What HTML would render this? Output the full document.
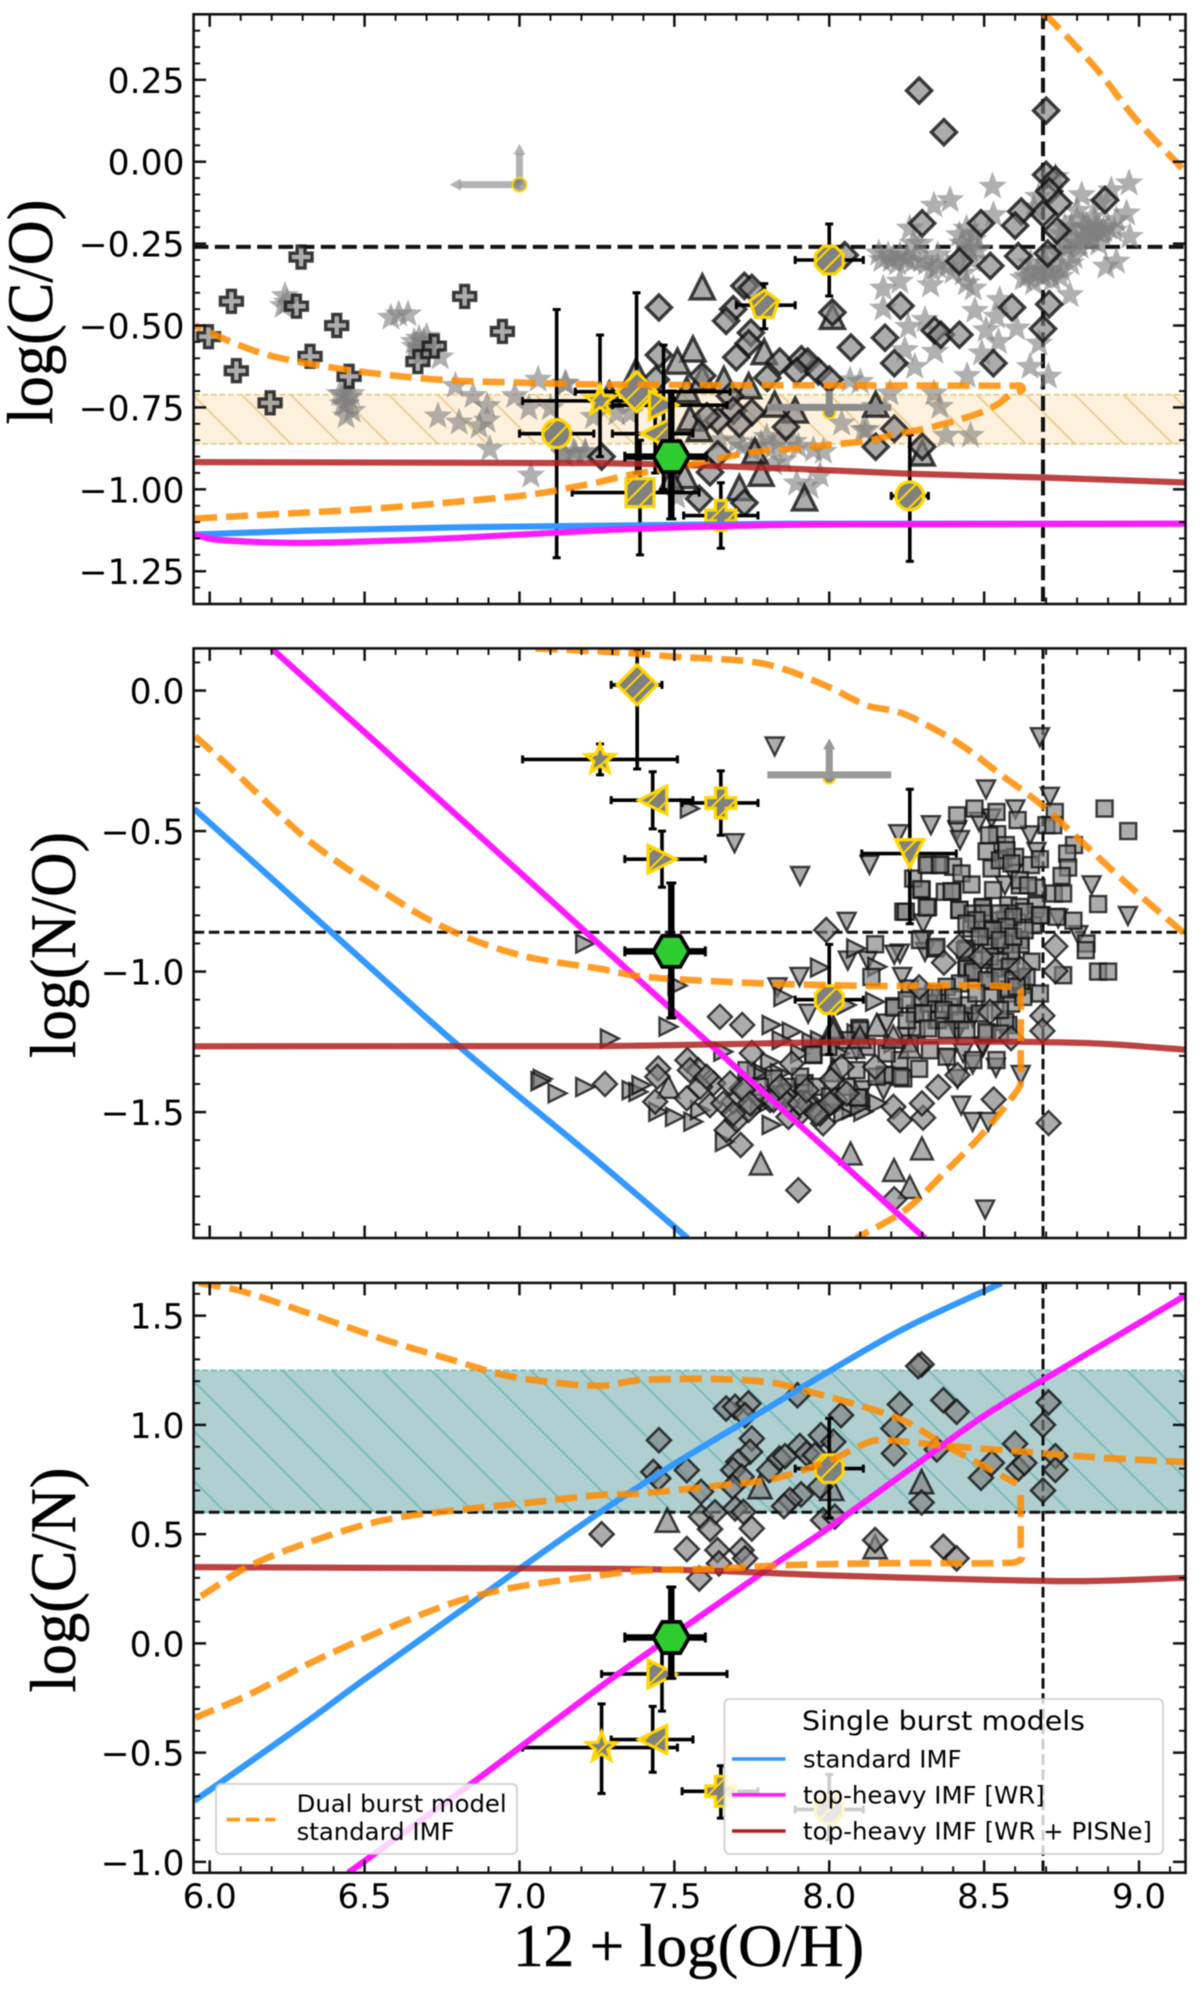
<!DOCTYPE html>
<html lang="en">
<head>
<meta charset="utf-8">
<title>Abundance ratios vs metallicity</title>
<style>
html,body{margin:0;padding:0;background:#fff;width:1200px;height:1990px;overflow:hidden}
svg{display:block;filter:blur(0.5px)}
text{font-family:"DejaVu Sans","Liberation Sans",sans-serif;fill:#000}
.serif{font-family:"Liberation Serif","DejaVu Serif",serif;stroke:#000;stroke-width:0.5}
</style>
</head>
<body>
<svg id="chart" xmlns="http://www.w3.org/2000/svg" width="1200" height="1990" viewBox="0 0 1200 1990">
<defs>
<pattern id="hatch-band-co" patternUnits="userSpaceOnUse" width="34.65" height="34.65" patternTransform="rotate(-45)">
<rect width="34.65" height="34.65" fill="#fef1dd"/><line x1="30.4" y1="0" x2="30.4" y2="34.65" stroke="#ebca86" stroke-width="1.7"/>
</pattern>
<pattern id="hatch-band-cn" patternUnits="userSpaceOnUse" width="35.14" height="35.14" patternTransform="rotate(-45)">
<rect width="35.14" height="35.14" fill="#afcfd0"/><line x1="3.7" y1="0" x2="3.7" y2="35.14" stroke="#74baba" stroke-width="1.7"/>
</pattern>
<pattern id="hatch-special" patternUnits="userSpaceOnUse" width="12" height="12" patternTransform="rotate(45)">
<rect width="12" height="12" fill="#808080"/><line x1="6" y1="0" x2="6" y2="12" stroke="#ffd700" stroke-width="2"/>
</pattern>
<clipPath id="clip-co"><rect x="193.6" y="14.3" width="991.9" height="589.7"/></clipPath>
<clipPath id="clip-no"><rect x="193.6" y="648.4" width="991.9" height="589.6"/></clipPath>
<clipPath id="clip-cn"><rect x="193.6" y="1282.9" width="991.9" height="589.9"/></clipPath>
</defs>
<g id="panel-co"></g>
<g id="panel-no"></g>
<g id="panel-cn"></g>

<text class="serif" transform="translate(52,312) rotate(-90)" text-anchor="middle" font-size="65" textLength="225" lengthAdjust="spacingAndGlyphs">log(C/O)</text>
<text class="serif" transform="translate(75,945) rotate(-90)" text-anchor="middle" font-size="65" textLength="226" lengthAdjust="spacingAndGlyphs">log(N/O)</text>
<text class="serif" transform="translate(75,1580) rotate(-90)" text-anchor="middle" font-size="65" textLength="225" lengthAdjust="spacingAndGlyphs">log(C/N)</text>
<text class="serif" x="513" y="1966" font-size="60" textLength="351" lengthAdjust="spacingAndGlyphs">12 + log(O/H)</text>

<g id="legends">
<g>
<rect x="216" y="1784" width="301" height="70" rx="5" fill="#fff" fill-opacity="0.8" stroke="#cccccc" stroke-width="1.6"/>
<line x1="226.6" y1="1819.6" x2="275.5" y2="1819.6" stroke="#ff8c00" stroke-opacity="0.9" stroke-width="3.6" stroke-dasharray="13.5,5.8"/>
<text x="296.6" y="1812" font-size="24" textLength="210" lengthAdjust="spacingAndGlyphs">Dual burst model</text>
<text x="296.6" y="1840" font-size="24" textLength="158" lengthAdjust="spacingAndGlyphs">standard IMF</text>
</g>
<g>
<rect x="724.4" y="1699" width="438.6" height="155" rx="5" fill="#fff" fill-opacity="0.8" stroke="#cccccc" stroke-width="1.6"/>
<text x="802" y="1730" font-size="27" textLength="283" lengthAdjust="spacingAndGlyphs">Single burst models</text>
<line x1="732" y1="1759" x2="785.6" y2="1759" stroke="#3399ff" stroke-width="3.6"/>
<text x="803" y="1767.5" font-size="24" textLength="158.6" lengthAdjust="spacingAndGlyphs">standard IMF</text>
<line x1="732" y1="1794.8" x2="785.6" y2="1794.8" stroke="#ff1aff" stroke-width="3.6"/>
<text x="803" y="1803.5" font-size="24" textLength="241.7" lengthAdjust="spacingAndGlyphs">top-heavy IMF [WR]</text>
<line x1="732" y1="1831" x2="785.6" y2="1831" stroke="#b22222" stroke-width="3.6"/>
<text x="803" y="1839.5" font-size="24" textLength="349" lengthAdjust="spacingAndGlyphs">top-heavy IMF [WR + PISNe]</text>
</g>
</g>
</svg>

<script>
// ---- shared axis data ----
const xTickValues = [6.0, 6.5, 7.0, 7.5, 8.0, 8.5, 9.0];
const xTickLabels = ["6.0", "6.5", "7.0", "7.5", "8.0", "8.5", "9.0"];
const coYTickValues = [0.25, 0, -0.25, -0.5, -0.75, -1.0, -1.25];
const coYTickLabels = ["0.25", "0.00", "\u22120.25", "\u22120.50", "\u22120.75", "\u22121.00", "\u22121.25"];
const noYTickValues = [0, -0.5, -1.0, -1.5];
const noYTickLabels = ["0.0", "\u22120.5", "\u22121.0", "\u22121.5"];
const cnYTickValues = [1.5, 1.0, 0.5, 0, -0.5, -1.0];
const cnYTickLabels = ["1.5", "1.0", "0.5", "0.0", "\u22120.5", "\u22121.0"];
const solarOH = 8.69;
const solarCO = -0.26;
const solarNO = -0.86;
const solarCNLine = 0.6;
const coBand = [-0.861, -0.711];
const cnBand = [0.6, 1.25];

// ---- C/O panel data: [12+log(O/H), log(C/O)] ----
const coStars = [[8.527,-.076],[8.39,-.117],[8.338,-.134],[8.73,-.046],[8.968,-.066],[8.91,-.087],[8.815,-.102],[8.874,-.127],[8.96,-.158],[8.97,-.229],[8.927,-.178],[8.85,-.168],[8.80,-.178],[8.83,-.198],[8.885,-.209],[8.79,-.229],[8.85,-.239],[8.766,-.26],[8.79,-.29],[8.927,-.305],[8.893,-.32],[8.53,-.163],[8.443,-.204],[8.42,-.224],[8.465,-.239],[8.454,-.27],[8.26,-.204],[8.293,-.25],[8.19,-.285],[8.228,-.285],[8.207,-.295],[8.27,-.305],[8.314,-.31],[8.35,-.32],[8.35,-.285],[8.40,-.336],[8.433,-.341],[8.67,-.341],[8.712,-.341],[8.745,-.351],[8.648,-.336],[8.69,-.351],[8.734,-.32],[8.626,-.356],[8.777,-.407],[8.675,-.107],[8.66,-.14],[8.76,-.2],[8.82,-.23],[8.86,-.21],[8.9,-.2],[8.76,-.25],[8.81,-.26],[8.87,-.25],[8.7,-.31],[8.65,-.31],[8.228,-.366],[8.174,-.387],[8.327,-.377],[8.443,-.371],[8.465,-.387],[8.55,-.422],[8.174,-.448],[8.47,-.455],[8.309,-.483],[8.255,-.504],[8.54,-.473],[8.506,-.514],[8.605,-.509],[8.546,-.55],[8.341,-.58],[8.244,-.575],[8.276,-.626],[8.492,-.585],[8.677,-.555],[8.648,-.626],[8.707,-.656],[8.445,-.654],[8.338,-.707],[8.357,-.748],[8.196,-.707],[8.377,-.836],[8.456,-.836],[8.12,-.819],[8.147,-.748],[6.243,-.41],[6.237,-.44],[6.25,-.43],[6.61,-.466],[6.585,-.476],[6.64,-.466],[6.676,-.54],[6.70,-.534],[6.663,-.565],[6.68,-.59],[6.744,-.597],[6.42,-.709],[6.457,-.709],[6.43,-.74],[6.44,-.777],[6.45,-.72],[6.793,-.684],[6.85,-.715],[6.895,-.746],[6.895,-.79],[6.87,-.808],[6.737,-.777],[6.805,-.796],[6.985,-.715],[7.06,-.665],[7.03,-.752],[6.904,-.877],[7.037,-.958],[7.10,-.752],[7.15,-.678],[7.145,-.895],[7.213,-.889],[7.18,-.89],[7.147,-.677],[7.239,-.779],[7.314,-.768],[7.357,-.768],[7.174,-.885],[7.212,-.885],[7.142,-.89],[7.798,-.84],[7.647,-.85],[7.70,-.855],[7.884,-.855],[7.949,-.88],[7.981,-.885],[7.97,-.957],[7.895,-.982],[7.938,-.992],[7.852,-.911],[7.82,-.921],[8.04,-.799],[8.11,-.819],[7.508,-1.023],[8.067,-.667],[8.10,-.672],[8.8,-.15],[8.82,-.2],[8.84,-.21],[8.87,-.2],[8.78,-.2],[8.75,-.22],[8.83,-.24],[8.88,-.22],[8.92,-.21],[8.86,-.19],[8.8,-.25],[8.74,-.28],[8.68,-.33],[8.64,-.35],[8.72,-.36],[8.7,-.33],[8.66,-.37],[8.75,-.33],[8.78,-.31],[8.2,-.3],[8.22,-.31],[8.25,-.3],[8.3,-.3],[8.33,-.33],[8.38,-.32],[8.42,-.3],[8.46,-.3],[8.45,-.26],[8.47,-.22],[8.48,-.27],[8.43,-.25],[8.27,-.25],[8.25,-.29],[8.17,-.3],[8.16,-.28],[7.75,-.88],[7.78,-.86],[7.82,-.87],[7.84,-.85],[7.9,-.87],[7.72,-.87],[6.69,-.55],[6.71,-.56],[6.66,-.55],[6.68,-.57],[6.44,-.74],[6.43,-.71],[6.46,-.76]];
const coDiamonds = [[8.29,.217],[8.37,.09],[8.70,.156],[8.70,-.04],[8.73,-.055],[8.71,-.09],[8.74,-.127],[8.69,-.158],[8.735,-.21],[8.705,-.28],[8.62,-.152],[8.60,-.195],[8.49,-.188],[8.30,-.188],[8.89,-.117],[8.42,-.304],[8.52,-.318],[8.61,-.288],[8.23,-.44],[8.59,-.445],[8.71,-.435],[8.69,-.51],[8.18,-.537],[8.34,-.515],[8.36,-.528],[8.42,-.528],[8.21,-.615],[8.53,-.615],[8.07,-.567],[8.05,-.285],[8.01,-.46],[7.45,-.445],[7.726,-.379],[7.75,-.385],[7.69,-.45],[7.667,-.486],[7.747,-.522],[7.74,-.555],[7.70,-.597],[7.45,-.59],[7.84,-.61],[7.91,-.603],[7.93,-.61],[7.895,-.64],[7.965,-.64],[8.0,-.665],[7.80,-.66],[7.59,-.653],[7.68,-.715],[7.69,-.76],[7.75,-.765],[7.71,-.80],[7.64,-.79],[7.605,-.777],[7.86,-.81],[8.21,-.815],[8.15,-.87],[8.30,-.87],[7.64,-.893],[7.615,-.948],[7.58,-1.029],[7.726,-1.041],[7.265,-.90],[7.44,-.665]];
const coTriangles = [[7.59,-.382],[8.01,-.472],[7.56,-.572],[7.51,-.609],[7.79,-.58],[7.376,-.64],[7.66,-.665],[7.74,-.684],[7.54,-.696],[7.59,-.66],[7.824,-.74],[7.89,-.758],[8.15,-.74],[7.55,-.783],[7.58,-.815],[7.76,-.883],[7.78,-.951],[7.71,-.995],[7.92,-1.026],[8.30,-.889],[7.533,-.958],[7.29,-.71],[7.49,-.97]];
const coCrosses = [[6.295,-.291],[6.07,-.426],[6.28,-.441],[5.996,-.534],[6.41,-.50],[6.324,-.594],[6.086,-.638],[6.45,-.655],[6.195,-.736],[6.823,-.411],[6.945,-.518],[6.725,-.563],[6.672,-.61]];
const coSpecial = [
 ["circle",7.12,-.83,7.0,7.24,-1.209,-.451],
 ["star",7.26,-.73,7.01,7.5,-.90,-.529],
 ["diamond",7.378,-.702,7.18,7.68,-.95,-.40],
 ["square",7.389,-1.01,7.17,7.58,-1.20,-.85],
 ["right",7.465,-.743,7.3,7.67,-1.0,-.56],
 ["left",7.438,-.83,7.30,7.56,-.95,-.72],
 ["pentagon",7.79,-.438,7.70,7.89,-.51,-.372],
 ["cross",7.65,-1.08,7.53,7.77,-1.18,-.98],
 ["octagon",8.0,-.30,7.89,8.11,-.41,-.19],
 ["circle",8.26,-1.02,8.2,8.32,-1.22,-.833]
];
const coUpperLimit = [7.0,-.07,6.775,.055];
const coGreyBar = [8.0,-.75,7.8,8.2,-.70];
const coGreen = [7.49,-.90,7.34,7.604,-1.09,-.70];
const coDualUpper = [[5.953,-1.089],[6.25,-1.074],[6.558,-1.057],[6.867,-1.032],[7.052,-1.014],[7.26,-.977],[7.29,-.97],[7.383,-.951],[7.506,-.933],[7.63,-.908],[7.753,-.887],[7.877,-.877],[8,-.864],[8.124,-.852],[8.223,-.83],[8.309,-.815],[8.42,-.787],[8.482,-.768],[8.544,-.74],[8.587,-.709],[8.624,-.696],[8.618,-.684],[8.6,-.684],[7.26,-.68],[6.99,-.674],[6.805,-.669],[6.682,-.661],[6.558,-.649],[6.435,-.634],[6.311,-.615],[6.188,-.59],[6.077,-.553],[5.953,-.50]];
const coDualTail = [[8.69,.45],[8.717,.431],[8.865,.281],[8.988,.132],[9.149,-.03]];
const coRed = [[5.95,-.917],[7.26,-.92],[7.877,-.937],[8.247,-.952],[8.69,-.964],[9.149,-.979]];
const coBlue = [[5.95,-1.138],[6.311,-1.126],[6.805,-1.116],[7.26,-1.111],[7.877,-1.105],[9.149,-1.105]];
const coMagenta = [[5.95,-1.138],[6.015,-1.153],[6.237,-1.163],[6.435,-1.161],[6.805,-1.148],[7.26,-1.125],[7.63,-1.113],[8,-1.107],[9.149,-1.105]];

// ---- N/O panel data: [12+log(O/H), log(N/O)] ----
const noSquares = [[8.413,-.444],[8.469,-.42],[8.54,-.432],[8.608,-.461],[8.728,-.432],[8.701,-.479],[8.723,-.479],[8.889,-.42],[8.965,-.50],[8.79,-.55],[8.768,-.58],[8.771,-.63],[8.75,-.66],[8.542,-.511],[8.516,-.515],[8.57,-.55],[8.508,-.572],[8.562,-.598],[8.6,-.592],[8.651,-.621],[8.68,-.6],[8.524,-.633],[8.319,-.621],[8.357,-.621],[8.4,-.627],[8.427,-.651],[8.459,-.69],[8.529,-.71],[8.615,-.693],[8.669,-.701],[8.725,-.722],[8.755,-.722],[8.868,-.76],[8.298,-.71],[8.271,-.669],[8.373,-.716],[8.398,-.716],[8.319,-.77],[8.239,-.787],[8.42,-.781],[8.497,-.77],[8.578,-.764],[8.615,-.77],[8.669,-.764],[8.685,-.799],[8.551,-.819],[8.497,-.829],[8.583,-.793],[8.788,-.819],[8.734,-.805],[8.658,-.835],[8.459,-.847],[8.519,-.876],[8.567,-.9],[8.615,-.888],[8.293,-.888],[8.341,-.918],[8.83,-.9],[8.828,-.924],[8.868,-1.0],[8.9,-1.0],[8.755,-1.013],[8.653,-.965],[8.588,-.942],[8.443,-.989],[8.535,-.989],[8.68,-1.078],[8.357,-1.09],[8.26,-1.06],[8.449,-1.12],[8.578,-1.078],[8.325,-1.114],[8.39,-1.125],[8.276,-1.149],[8.519,-1.09],[8.621,-1.03],[8.282,-1.208],[8.51,-1.22],[8.578,-1.19],[8.346,-1.173],[8.422,-1.173],[8.209,-1.123],[7.949,-1.297],[7.919,-1.4],[8.097,-1.2],[8.099,-1.448],[7.997,-1.268],[8.185,-1.368],[8.228,-1.315],[8.239,-1.38],[7.948,-1.295],[8.1,-1.208],[8.21,-1.128],[8.278,-1.15],[8.358,-1.092],[8.321,-1.114],[8.352,-1.172],[8.445,-.99],[8.507,-1.215],[8.568,-1.179],[8.587,-1.114],[8.29,-1.346],[8.229,-1.375],[8.179,-1.368],[8.093,-1.448],[7.92,-1.397],[8.148,-.903],[8.136,-1.019],[8.247,-.787],[8.315,-.772],[8.315,-.62],[8.358,-.62],[8.297,-.707],[8.395,-.714],[8.463,-1.005],[8.519,-1.034],[8.58,-1.063],[8.618,-1.048],[8.445,-.918],[8.507,-.903],[8.568,-.903],[8.618,-.903],[8.587,-.932],[8.507,-.845],[8.568,-.816],[8.63,-.787],[8.68,-.80],[8.494,-.772],[8.42,-.78],[8.463,-.794],[8.551,-.604],[8.572,-.568],[8.588,-.615],[8.615,-.675],[8.642,-.693],[8.497,-.793],[8.475,-.817],[8.443,-.829],[8.551,-.793],[8.594,-.805],[8.572,-.841],[8.529,-.853],[8.486,-.876],[8.551,-.888],[8.594,-.876],[8.631,-.853],[8.346,-.912],[8.438,-.924],[8.492,-.959],[8.519,-.947],[8.551,-.965],[8.583,-.983],[8.465,-1.0],[8.508,-1.03],[8.551,-1.019],[8.594,-1.03],[8.637,-1.019],[8.422,-1.042],[8.379,-1.054],[8.336,-1.078],[8.293,-1.09],[8.25,-1.102],[8.4,-1.09],[8.475,-1.078],[8.626,-1.09],[8.605,-1.054],[8.303,-1.149],[8.368,-1.137],[8.411,-1.149],[8.486,-1.149],[8.551,-1.137],[8.25,-1.173],[8.319,-1.202],[8.379,-1.208],[8.443,-1.208],[8.551,-1.22],[8.26,-1.256],[8.325,-1.28],[8.379,-1.303],[8.465,-1.315],[8.54,-1.315],[8.057,-1.244],[8.121,-1.268],[8.185,-1.291],[8.153,-1.374],[8.088,-1.351],[8.056,-1.41],[7.959,-1.41],[8.002,-1.445],[7.906,-1.374],[7.863,-1.41],[7.82,-1.38],[7.776,-1.41],[7.733,-1.351]];
const noDownTriangles = [[8.506,-.352],[8.712,-.378],[8.328,-.479],[8.413,-.497],[8.422,-.532],[8.483,-.467],[8.524,-.455],[8.601,-.423],[8.648,-.515],[8.847,-.693],[8.964,-.802],[8.567,-.693],[8.592,-.651],[8.669,-.574],[8.303,-.829],[8.303,-.888],[8.309,-.93],[8.739,-.811],[8.804,-.87],[8.228,-.936],[8.465,-1.16],[8.411,-1.214],[8.497,-1.268],[8.432,-1.29],[7.824,-.199],[8.68,-.166],[7.694,-.543],[7.906,-.66],[8.13,-.62],[8.223,-.511],[8.056,-.823],[8.21,-.94],[8.06,-.961],[8.124,-.961],[7.904,-1.019],[7.833,-1.056],[7.932,-1.15],[8.235,-1.019],[8.426,-1.477],[8.463,-1.535],[8.513,-1.535],[8.538,-1.342],[8.618,-1.368],[8.503,-1.847],[8.414,-1.382],[8.383,-1.31],[8.463,-1.33],[8.494,-1.266],[8.414,-1.215],[8.463,-1.165],[8.185,-1.185],[8.25,-1.232],[8.088,-1.28],[8.11,-1.422],[8.175,-1.422]];
const noRightTriangles = [[7.55,-.42],[7.292,-1.238],[7.481,-1.196],[7.814,-1.19],[7.879,-1.214],[7.846,-1.244],[7.658,-1.285],[7.943,-1.25],[7.809,-1.321],[7.787,-1.362],[7.362,-1.422],[7.384,-1.428],[7.394,-1.404],[7.502,-1.517],[7.448,-1.499],[7.561,-1.534],[7.583,-1.493],[7.663,-1.606],[7.814,-1.546],[7.852,-1.09],[8.148,-1.107],[8.056,-1.119],[8.158,-1.469],[8.11,-1.499],[8.072,-1.493],[7.51,-1.05],[7.97,-.986],[8.087,-.918],[8.155,-.983],[7.212,-.90],[7.123,-1.433],[7.075,-1.382],[7.068,-1.39],[7.212,-1.411],[7.766,-1.362],[7.841,-1.362],[7.776,-1.481],[8.002,-1.493],[8.045,-1.505],[8.099,-1.481],[7.906,-1.291],[7.97,-1.244],[8.035,-1.291],[8.088,-1.22],[8.207,-1.256]];
const noDiamonds = [[7.99,-.852],[7.647,-1.161],[7.719,-1.19],[7.75,-1.29],[7.276,-1.4],[7.448,-1.345],[7.445,-1.374],[7.438,-1.463],[7.542,-1.315],[7.577,-1.351],[7.626,-1.398],[7.54,-1.451],[7.615,-1.475],[7.669,-1.564],[7.714,-1.617],[7.701,-1.528],[7.717,-1.416],[7.739,-1.493],[7.69,-1.463],[7.879,-1.327],[7.809,-1.457],[7.857,-1.44],[7.911,-1.499],[7.868,-1.517],[7.98,-1.54],[7.97,-1.505],[8.008,-1.384],[8.04,-1.339],[8.019,-1.457],[8.148,-1.339],[8.207,-1.481],[8.228,-1.528],[7.9,-1.778],[7.949,-1.481],[7.927,-1.469],[7.841,-1.445],[8.303,-1.52],[8.299,-1.469],[8.352,-1.411],[8.414,-1.368],[8.21,-1.81],[8.531,-1.455],[8.708,-1.539],[8.688,-1.157],[8.688,-1.211],[8.73,-.91],[8.73,-.998],[8.42,-.91],[8.49,-.947],[8.617,-.99],[8.37,-.968],[8.29,-1.056],[8.519,-1.143],[8.587,-1.237],[7.68,-1.398],[7.723,-1.422],[7.776,-1.445],[7.82,-1.457],[7.863,-1.469],[7.906,-1.469],[7.959,-1.505],[8.002,-1.469],[8.056,-1.434],[7.927,-1.422],[7.841,-1.41],[7.658,-1.469],[7.69,-1.505],[7.744,-1.469],[7.583,-1.41],[7.55,-1.351],[7.604,-1.374]];
const noUpTriangles = [[7.481,-1.41],[7.779,-1.683],[8.069,-1.647],[8.209,-1.706],[8.26,-1.766],[8.299,-1.629],[8.013,-1.196],[8.153,-1.19],[8.26,-1.268],[8.078,-1.268],[8.013,-1.351],[8.013,-1.214],[8.099,-1.232],[8.207,-1.232]];
const noSpecial = [
 ["diamond",7.38,.02,7.296,7.46,-.279,.142],
 ["star",7.26,-.245,7.01,7.51,-.30,-.19],
 ["left",7.43,-.39,7.296,7.56,-.492,-.289],
 ["cross",7.65,-.40,7.525,7.77,-.515,-.286],
 ["right",7.46,-.60,7.34,7.60,-.70,-.50],
 ["down",8.26,-.58,8.105,8.41,-.83,-.351],
 ["octagon",8.0,-1.10,7.89,8.11,-1.295,-.903]
];
const noGreyBar = [8.0,-.30,7.80,8.2,-.17];
const noGreen = [7.49,-.928,7.34,7.60,-1.165,-.685];
const noDualTop = [[7.052,.15],[7.259,.139],[7.383,.131],[7.506,.12],[7.63,.113],[7.753,.102],[7.852,.077],[8.0,.012],[8.124,-.054],[8.223,-.076],[8.309,-.119],[8.433,-.199],[8.556,-.301],[8.68,-.402],[8.803,-.526],[8.988,-.714],[9.149,-.867]];
const noDualLow = [[5.953,-.163],[6.064,-.272],[6.188,-.402],[6.311,-.526],[6.435,-.627],[6.558,-.714],[6.682,-.80],[6.805,-.867],[6.929,-.918],[7.052,-.954],[7.26,-.99],[7.383,-1.016],[7.568,-1.031],[7.815,-1.043],[8.124,-1.051],[8.612,-1.056],[8.618,-1.092],[8.618,-1.31],[8.618,-1.397],[8.605,-1.426],[8.494,-1.578],[8.371,-1.716],[8.247,-1.847],[8.087,-1.949]];
const noRed = [[5.95,-1.266],[7.26,-1.265],[8,-1.252],[8.494,-1.249],[8.865,-1.256],[9.149,-1.278]];
const noBlue = [[5.95,-.421],[6.4,-.867],[6.805,-1.266],[7.26,-1.682],[7.543,-1.949]];
const noMagenta = [[6.2,.15],[6.558,-.206],[6.929,-.575],[7.26,-.905],[7.63,-1.273],[7.877,-1.519],[8.309,-1.949]];

// ---- C/N panel data: [12+log(O/H), log(C/N)] ----
const cnDiamonds = [[8.298,1.277],[8.287,1.269],[7.897,1.136],[8.038,1.045],[8.228,1.094],[8.368,1.113],[8.411,1.06],[8.207,.984],[8.209,.869],[8.347,.888],[7.667,1.075],[7.696,1.083],[7.739,1.098],[7.728,1.045],[7.45,.93],[7.75,.938],[7.744,.877],[7.706,.831],[7.69,.793],[7.717,.763],[7.432,.785],[7.448,.755],[7.54,.793],[7.586,.694],[7.688,.717],[7.806,.793],[7.839,.846],[7.857,.857],[7.905,.903],[7.927,.869],[7.954,.862],[7.973,.953],[8.013,.923],[7.97,.717],[7.909,.682],[7.873,.656],[7.854,.628],[7.586,.58],[7.631,.6],[7.696,.618],[7.723,.602],[7.75,.526],[7.615,.523],[7.54,.432],[7.639,.427],[7.717,.427],[7.728,.389],[7.644,.366],[7.58,.297],[7.98,.564],[8.018,.58],[8.148,.473],[8.298,.645],[8.368,.442],[8.411,.389],[8.708,1.103],[8.69,1.0],[8.69,.70],[8.73,.857],[8.73,.794],[8.60,.914],[8.525,.826],[8.61,.80],[8.49,.758],[8.63,.826],[7.265,.50]];
const cnTriangles = [[7.477,.564],[7.776,.717],[8.008,.709],[8.298,.74],[8.148,.442]];
const cnSpecial = [
 ["right",7.46,-.14,7.265,7.67,-.31,.03],
 ["left",7.43,-.44,7.296,7.56,-.59,-.288],
 ["star",7.265,-.477,7.01,7.51,-.687,-.277],
 ["cross",7.65,-.677,7.525,7.77,-.80,-.56],
 ["octagon",8.0,.80,7.89,8.11,.574,1.03],
 ["octagon",8.0,-.76,7.89,8.11,-.9,-.60]
];
const cnGreen = [7.49,.027,7.34,7.60,-.16,.258];
const cnDualOuter = [[5.965,1.65],[6.101,1.613],[6.311,1.515],[6.558,1.393],[6.805,1.288],[6.929,1.235],[7.052,1.204],[7.26,1.179],[7.383,1.204],[7.63,1.21],[7.815,1.193],[7.938,1.151],[8.124,1.078],[8.247,1.015],[8.371,.91],[8.494,.815],[8.605,.731]];
const cnDualReturn = [[8.618,.679],[8.618,.447],[8.618,.384],[8.556,.368],[8.247,.368],[7.877,.359],[7.63,.342],[7.383,.332],[7.26,.311],[6.99,.258],[6.805,.195],[6.558,.059],[6.311,-.099],[6.126,-.235],[5.953,-.34]];
const cnDualInner = [[5.972,.216],[6.126,.353],[6.311,.458],[6.558,.563],[6.805,.611],[7.052,.647],[7.26,.679],[7.383,.685],[7.63,.721],[7.815,.752],[8,.836],[8.124,.92],[8.173,.931],[8.371,.905],[8.618,.878],[8.865,.851],[9.149,.83]];
const cnRed = [[5.95,.349],[7.26,.342],[7.63,.332],[8,.311],[8.371,.296],[8.69,.286],[8.865,.286],[9.149,.30]];
const cnBlue = [[5.95,-.721],[6.311,-.361],[6.497,-.167],[6.886,.226],[7.26,.6],[7.506,.826],[7.753,1.036],[8.0,1.246],[8.247,1.445],[8.556,1.649]];
const cnMagenta = [[6.447,-1.05],[6.842,-.645],[7.26,-.2],[7.506,.048],[7.803,.342],[8,.531],[8.247,.784],[8.494,1.036],[8.688,1.204],[9.149,1.592]];

// ---- drawing ----
const NS = 'http://www.w3.org/2000/svg';
const YELLOW = '#ffd700';

function make(tag, name, attrs, parent) {
  const el = document.createElementNS(NS, tag);
  
  
  for (const k in attrs) el.setAttribute(k, attrs[k]);
  parent.appendChild(el);
  return el;
}

function makeAxes(top, bottom, yHigh, yLow) {
  const left = 193.6, right = 1185.5, xLow = 5.948, xHigh = 9.15;
  return {
    left, right, top, bottom, yHigh, yLow, xLow, xHigh,
    x: v => left + (v - xLow) * (right - left) / (xHigh - xLow),
    y: v => top + (yHigh - v) * (bottom - top) / (yHigh - yLow)
  };
}

function ringPoints(n, r, rot) {
  const out = [];
  for (let i = 0; i < n; i++) {
    const a = rot + i * 2 * Math.PI / n;
    out.push([r * Math.cos(a), r * Math.sin(a)]);
  }
  return out;
}

function shapePoints(kind, s) {
  switch (kind) {
    case 'diamond': return [[0,-s],[s,0],[0,s],[-s,0]];
    case 'square': return [[-s,-s],[s,-s],[s,s],[-s,s]];
    case 'up': return [[0,-s],[s,s],[-s,s]];
    case 'down': return [[0,s],[s,-s],[-s,-s]];
    case 'left': return [[-s,0],[s,-s],[s,s]];
    case 'right': return [[s,0],[-s,-s],[-s,s]];
    case 'star': {
      const pts = [];
      for (let i = 0; i < 10; i++) {
        const r = i % 2 ? s * 0.42 : s;
        const a = -Math.PI / 2 + i * Math.PI / 5;
        pts.push([r * Math.cos(a), r * Math.sin(a)]);
      }
      return pts;
    }
    case 'cross': {
      const a = s * 0.36;
      return [[-a,-s],[a,-s],[a,-a],[s,-a],[s,a],[a,a],[a,s],[-a,s],[-a,a],[-s,a],[-s,-a],[-a,-a]];
    }
    case 'pentagon': return ringPoints(5, s, -Math.PI / 2);
    case 'hexagon': return ringPoints(6, s, 0);
    case 'octagon': return ringPoints(8, s, Math.PI / 8);
    default: return ringPoints(28, s, 0);
  }
}

function drawMarker(parent, name, kind, px, py, s, style) {
  const pts = shapePoints(kind, s).map(p => (px + p[0]).toFixed(1) + ',' + (py + p[1]).toFixed(1)).join(' ');
  const attrs = Object.assign({ points: pts, 'stroke-linejoin': 'miter' }, style);
  return make('polygon', name, attrs, parent);
}

function drawScatter(ax, parent, name, kind, values, size, style) {
  const group = make('g', name + '-series', {}, parent);
  values.forEach(v => {
    drawMarker(group, name, kind, ax.x(v[0]), ax.y(v[1]), size, style);
  });
}

function unit(a, b) {
  const dx = b[0] - a[0], dy = b[1] - a[1];
  const n = Math.hypot(dx, dy) || 1;
  return [dx / n, dy / n];
}

function drawLine(ax, parent, name, values, style) {
  const p = values.map(v => [ax.x(v[0]), ax.y(v[1])]);
  const tangents = p.map((pt, i) => unit(p[Math.max(i - 1, 0)], p[Math.min(i + 1, p.length - 1)]));
  let d = 'M' + p[0][0].toFixed(1) + ' ' + p[0][1].toFixed(1);
  for (let i = 0; i < p.length - 1; i++) {
    const len = Math.hypot(p[i + 1][0] - p[i][0], p[i + 1][1] - p[i][1]) / 3;
    const c1 = [p[i][0] + tangents[i][0] * len, p[i][1] + tangents[i][1] * len];
    const c2 = [p[i + 1][0] - tangents[i + 1][0] * len, p[i + 1][1] - tangents[i + 1][1] * len];
    d += ' C' + c1[0].toFixed(1) + ' ' + c1[1].toFixed(1) + ' ' + c2[0].toFixed(1) + ' ' + c2[1].toFixed(1) + ' ' + p[i + 1][0].toFixed(1) + ' ' + p[i + 1][1].toFixed(1);
  }
  return make('path', name, Object.assign({ d: d, fill: 'none', 'stroke-linejoin': 'round' }, style), parent);
}

function drawErrorBars(ax, parent, name, v, width, capHalf) {
  const g = make('g', name + '-error-bars', { stroke: '#000', 'stroke-width': width }, parent);
  const cx = ax.x(v[0]), cy = ax.y(v[1]);
  const x0 = ax.x(v[2]), x1 = ax.x(v[3]), y0 = ax.y(v[4]), y1 = ax.y(v[5]);
  make('line', name + '-x-error', { x1: x0, y1: cy, x2: x1, y2: cy }, g);
  make('line', name + '-y-error', { x1: cx, y1: y0, x2: cx, y2: y1 }, g);
  const capW = Math.min(width, 3);
  make('line', name + '-cap', { x1: x0, y1: cy - capHalf, x2: x0, y2: cy + capHalf, 'stroke-width': capW }, g);
  make('line', name + '-cap', { x1: x1, y1: cy - capHalf, x2: x1, y2: cy + capHalf, 'stroke-width': capW }, g);
  make('line', name + '-cap', { x1: cx - capHalf, y1: y0, x2: cx + capHalf, y2: y0, 'stroke-width': capW }, g);
  make('line', name + '-cap', { x1: cx - capHalf, y1: y1, x2: cx + capHalf, y2: y1, 'stroke-width': capW }, g);
}

const specialSizes = { circle: 14, star: 15.5, diamond: 20, square: 14, right: 14, left: 14, down: 14, pentagon: 15, cross: 15, octagon: 15 };

function drawSpecial(ax, parent, values) {
  values.forEach(v => {
    const shifted = [v[1], v[2], v[3], v[4], v[5], v[6]];
    drawErrorBars(ax, parent, 'highlight-' + v[0], shifted, 3.6, 4);
  });
  values.forEach(v => {
    drawMarker(parent, 'highlight-' + v[0], v[0], ax.x(v[1]), ax.y(v[2]), specialSizes[v[0]], {
      fill: 'url(#hatch-special)', stroke: YELLOW, 'stroke-width': 3.2
    });
  });
}

function drawGreen(ax, parent, v) {
  drawErrorBars(ax, parent, 'green-point', v, 6.5, 5);
  drawMarker(parent, 'green-point', 'hexagon', ax.x(v[0]), ax.y(v[1]), 18, {
    fill: '#2ecc2e', stroke: '#000', 'stroke-width': 3.8
  });
}

function arrowHead(parent, name, x, y, dx, dy, colour, opacity) {
  const w = 6, l = 11;
  const pts = [[x, y], [x - dx * l + dy * w, y - dy * l + dx * w], [x - dx * l - dy * w, y - dy * l - dx * w]];
  make('polygon', name, { points: pts.map(p => p.join(',')).join(' '), fill: colour, 'fill-opacity': opacity }, parent);
}

function drawTicks(ax, parent, yMajor, yLabels, yMinorStep, showXLabels) {
  const g = make('g', 'axis-ticks', { stroke: '#111' }, parent);
  const labels = make('g', 'tick-labels', {}, parent);
  for (let t = 6; t <= 9.11; t += 0.1) {
    const v = Math.round(t * 10) / 10;
    if (xTickValues.indexOf(v) >= 0) continue;
    const px = ax.x(v);
    make('line', 'x-minor-tick', { x1: px, y1: ax.bottom, x2: px, y2: ax.bottom - 6.5, 'stroke-width': 2 }, g);
    make('line', 'x-minor-tick', { x1: px, y1: ax.top, x2: px, y2: ax.top + 6.5, 'stroke-width': 2 }, g);
  }
  xTickValues.forEach((v, i) => {
    const px = ax.x(v);
    make('line', 'x-major-tick', { x1: px, y1: ax.bottom, x2: px, y2: ax.bottom - 12.5, 'stroke-width': 2.5 }, g);
    make('line', 'x-major-tick', { x1: px, y1: ax.top, x2: px, y2: ax.top + 12.5, 'stroke-width': 2.5 }, g);
    if (showXLabels) {
      const t = make('text', 'x-tick-label', { x: px, y: 1908, 'text-anchor': 'middle', 'font-size': 34 }, labels);
      t.textContent = xTickLabels[i];
    }
  });
  const start = Math.ceil(ax.yLow / yMinorStep);
  const end = Math.floor(ax.yHigh / yMinorStep);
  for (let k = start; k <= end; k++) {
    const v = Math.round(k * yMinorStep * 100) / 100;
    if (yMajor.indexOf(v) >= 0) continue;
    const py = ax.y(v);
    make('line', 'y-minor-tick', { x1: ax.left, y1: py, x2: ax.left + 6.5, y2: py, 'stroke-width': 2 }, g);
    make('line', 'y-minor-tick', { x1: ax.right, y1: py, x2: ax.right - 6.5, y2: py, 'stroke-width': 2 }, g);
  }
  yMajor.forEach((v, i) => {
    const py = ax.y(v);
    make('line', 'y-major-tick', { x1: ax.left, y1: py, x2: ax.left + 12.5, y2: py, 'stroke-width': 2.5 }, g);
    make('line', 'y-major-tick', { x1: ax.right, y1: py, x2: ax.right - 12.5, y2: py, 'stroke-width': 2.5 }, g);
    const t = make('text', 'y-tick-label', { x: 184.5, y: py + 13, 'text-anchor': 'end', 'font-size': 34.5 }, labels);
    t.textContent = yLabels[i];
  });
}

function drawFrame(ax, parent) {
  make('rect', 'axes-frame', {
    x: ax.left, y: ax.top, width: ax.right - ax.left, height: ax.bottom - ax.top,
    fill: 'none', stroke: '#111', 'stroke-width': 2.6
  }, parent);
}

function drawBand(ax, parent, name, band, pattern, edge) {
  const y0 = ax.y(band[1]), y1 = ax.y(band[0]);
  make('rect', name, { x: ax.left, y: y0, width: ax.right - ax.left, height: y1 - y0, fill: 'url(#' + pattern + ')' }, parent);
  [y0, y1].forEach(py => {
    make('line', name + '-edge', { x1: ax.left, y1: py, x2: ax.right, y2: py, stroke: edge, 'stroke-width': 1.6, 'stroke-dasharray': '6,2.6' }, parent);
  });
}

function refLines(ax, parent, hValue, width, dash) {
  make('line', 'solar-ratio-line', { x1: ax.left, x2: ax.right, y1: ax.y(hValue), y2: ax.y(hValue), stroke: '#111', 'stroke-width': width, 'stroke-dasharray': dash }, parent);
  make('line', 'solar-metallicity-line', { x1: ax.x(solarOH), x2: ax.x(solarOH), y1: ax.top, y2: ax.bottom, stroke: '#111', 'stroke-width': width, 'stroke-dasharray': dash }, parent);
}

const dualStyle = { stroke: '#ff8c00', 'stroke-opacity': 0.85, 'stroke-width': 6.6, 'stroke-dasharray': '22,9' };
const blueStyle = { stroke: '#3399ff', 'stroke-width': 6.2 };
const magentaStyle = { stroke: '#ff1aff', 'stroke-width': 6.2 };
const redStyle = { stroke: '#b22222', 'stroke-opacity': 0.85, 'stroke-width': 6.2 };
const markFill = { fill: '#808080', 'fill-opacity': 0.65 };

function styled(strokeWidth) {
  return Object.assign({}, markFill, { stroke: '#111', 'stroke-opacity': 0.8, 'stroke-width': strokeWidth });
}

// C/O panel
(function () {
  const root = document.getElementById('panel-co');
  const ax = makeAxes(14.3, 604, 0.45, -1.35);
  const plot = make('g', 'co-plot-area', { 'clip-path': 'url(#clip-co)' }, root);
  drawBand(ax, plot, 'co-band', coBand, 'hatch-band-co', '#e8c67e');
  refLines(ax, plot, solarCO, 4, '14.8,6.4');
  drawScatter(ax, plot, 'co-star', 'star', coStars, 15, { fill: '#808080', 'fill-opacity': 0.62 });
  drawScatter(ax, plot, 'co-cross', 'cross', coCrosses, 11, styled(3.4));
  drawScatter(ax, plot, 'co-triangle', 'up', coTriangles, 12, styled(3.4));
  drawScatter(ax, plot, 'co-diamond', 'diamond', coDiamonds, 12.6, styled(3.4));

  const b = coGreyBar;
  drawMarker(plot, 'co-limit-marker', 'circle', ax.x(b[0]), ax.y(b[1]) + 5, 6, { fill: '#888', stroke: YELLOW, 'stroke-width': 2 });
  make('line', 'co-grey-bar', { x1: ax.x(b[2]), x2: ax.x(b[3]), y1: ax.y(b[1]), y2: ax.y(b[1]), stroke: '#8c8c8c', 'stroke-width': 7 }, plot);
  make('line', 'co-grey-stem', { x1: ax.x(b[0]), x2: ax.x(b[0]), y1: ax.y(b[1]), y2: ax.y(b[4]), stroke: '#8c8c8c', 'stroke-width': 7 }, plot);

  drawSpecial(ax, plot, coSpecial);

  const u = coUpperLimit;
  const grey = { stroke: '#808080', 'stroke-opacity': 0.6, 'stroke-width': 7 };
  const ux = ax.x(u[0]), uy = ax.y(u[1]);
  make('line', 'limit-arrow-left', Object.assign({ x1: ux, y1: uy, x2: ax.x(u[2]) + 10, y2: uy }, grey), plot);
  make('line', 'limit-arrow-up', Object.assign({ x1: ux, y1: uy, x2: ux, y2: ax.y(u[3]) + 10 }, grey), plot);
  arrowHead(plot, 'limit-arrow-left-head', ax.x(u[2]), uy, -1, 0, '#808080', 0.6);
  arrowHead(plot, 'limit-arrow-up-head', ux, ax.y(u[3]), 0, -1, '#808080', 0.6);
  drawMarker(plot, 'limit-point', 'circle', ux, uy, 7, { fill: '#808080', 'fill-opacity': 0.7, stroke: YELLOW, 'stroke-width': 1.8 });

  drawLine(ax, plot, 'co-standard-imf-line', coBlue, blueStyle);
  drawLine(ax, plot, 'co-top-heavy-wr-line', coMagenta, magentaStyle);
  drawLine(ax, plot, 'co-top-heavy-pisne-line', coRed, redStyle);
  drawLine(ax, plot, 'co-dual-burst-line', coDualUpper, dualStyle);
  drawLine(ax, plot, 'co-dual-burst-tail', coDualTail, dualStyle);
  drawGreen(ax, plot, coGreen);

  drawTicks(ax, root, coYTickValues, coYTickLabels, 0.05, false);
  drawFrame(ax, root);
})();

// N/O panel
(function () {
  const root = document.getElementById('panel-no');
  const ax = makeAxes(648.4, 1238, 0.15, -1.948);
  const plot = make('g', 'no-plot-area', { 'clip-path': 'url(#clip-no)' }, root);
  refLines(ax, plot, solarNO, 3, '10.6,4.6');
  drawScatter(ax, plot, 'no-down-triangle', 'down', noDownTriangles, 9, styled(2.4));
  drawScatter(ax, plot, 'no-right-triangle', 'right', noRightTriangles, 9, styled(2.4));
  drawScatter(ax, plot, 'no-square', 'square', noSquares, 8, styled(2.4));
  drawScatter(ax, plot, 'no-up-triangle', 'up', noUpTriangles, 11, styled(2.4));
  drawScatter(ax, plot, 'no-diamond', 'diamond', noDiamonds, 12, styled(2.4));

  const b = noGreyBar;
  drawMarker(plot, 'no-limit-marker', 'octagon', ax.x(b[0]), ax.y(b[1]) + 3, 6, { fill: '#888', stroke: YELLOW, 'stroke-width': 2 });
  make('line', 'no-grey-bar', { x1: ax.x(b[2]), x2: ax.x(b[3]), y1: ax.y(b[1]), y2: ax.y(b[1]), stroke: '#999', 'stroke-width': 7 }, plot);
  make('line', 'no-grey-stem', { x1: ax.x(b[0]), x2: ax.x(b[0]), y1: ax.y(b[1]), y2: ax.y(b[4]) + 10, stroke: '#999', 'stroke-width': 7 }, plot);
  arrowHead(plot, 'no-grey-arrow-head', ax.x(b[0]), ax.y(b[4]), 0, -1, '#999', 1);

  drawSpecial(ax, plot, noSpecial);

  drawLine(ax, plot, 'no-standard-imf-line', noBlue, blueStyle);
  drawLine(ax, plot, 'no-top-heavy-wr-line', noMagenta, magentaStyle);
  drawLine(ax, plot, 'no-top-heavy-pisne-line', noRed, redStyle);
  drawLine(ax, plot, 'no-dual-burst-top-line', noDualTop, dualStyle);
  drawLine(ax, plot, 'no-dual-burst-lower-line', noDualLow, dualStyle);
  drawGreen(ax, plot, noGreen);

  drawTicks(ax, root, noYTickValues, noYTickLabels, 0.1, false);
  drawFrame(ax, root);
})();

// C/N panel
(function () {
  const root = document.getElementById('panel-cn');
  const ax = makeAxes(1282.9, 1872.8, 1.65, -1.05);
  const plot = make('g', 'cn-plot-area', { 'clip-path': 'url(#clip-cn)' }, root);
  drawBand(ax, plot, 'cn-band', cnBand, 'hatch-band-cn', '#74baba');
  refLines(ax, plot, solarCNLine, 3, '10.6,4.6');
  drawScatter(ax, plot, 'cn-triangle', 'up', cnTriangles, 11.5, styled(2.6));
  drawScatter(ax, plot, 'cn-diamond', 'diamond', cnDiamonds, 12, styled(2.6));

  drawSpecial(ax, plot, cnSpecial);

  drawLine(ax, plot, 'cn-standard-imf-line', cnBlue, blueStyle);
  drawLine(ax, plot, 'cn-top-heavy-wr-line', cnMagenta, magentaStyle);
  drawLine(ax, plot, 'cn-top-heavy-pisne-line', cnRed, redStyle);
  drawLine(ax, plot, 'cn-dual-burst-outer-line', cnDualOuter, dualStyle);
  drawLine(ax, plot, 'cn-dual-burst-return-line', cnDualReturn, dualStyle);
  drawLine(ax, plot, 'cn-dual-burst-inner-line', cnDualInner, dualStyle);
  drawGreen(ax, plot, cnGreen);

  drawTicks(ax, root, cnYTickValues, cnYTickLabels, 0.1, true);
  drawFrame(ax, root);
})();
</script>
</body>
</html>
